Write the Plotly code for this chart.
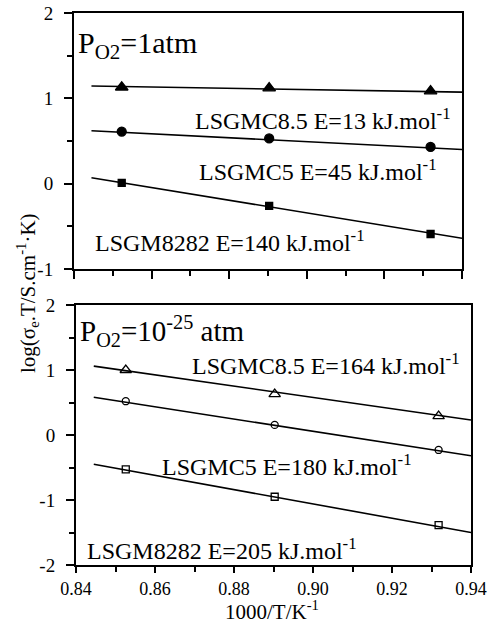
import plotly.graph_objects as go

# ---- data ----
x_pts = [0.8523, 0.8903, 0.9319]
x_pts_b = [0.8526, 0.8903, 0.9318]
fit_x = [0.8445, 0.9400]

# top panel, P_O2 = 1 atm
top_c85_y = [1.13, 1.12, 1.085]
top_c85_fit = [1.144, 1.073]
top_c5_y = [0.61, 0.53, 0.43]
top_c5_fit = [0.62, 0.40]
top_m_y = [0.01, -0.26, -0.59]
top_m_fit = [0.07, -0.64]

# bottom panel, P_O2 = 1e-25 atm
bot_c85_y = [1.00, 0.63, 0.29]
bot_c85_fit = [1.06, 0.23]
bot_c5_y = [0.52, 0.155, -0.23]
bot_c5_fit = [0.58, -0.32]
bot_m_y = [-0.53, -0.95, -1.385]
bot_m_fit = [-0.45, -1.50]

xticks = [0.84, 0.86, 0.88, 0.90, 0.92, 0.94]
xtick_text = ["0.84", "0.86", "0.88", "0.90", "0.92", "0.94"]

FONT = "Liberation Serif"
W, H = 495, 622

fig = go.Figure()

def add_series(xs, ys, fy, xa, ya, sym, size):
    fig.add_trace(go.Scatter(x=fit_x, y=fy, mode="lines", line=dict(color="black", width=1.6),
                             xaxis=xa, yaxis=ya, showlegend=False, hoverinfo="skip"))
    fig.add_trace(go.Scatter(x=xs, y=ys, mode="markers",
                             marker=dict(symbol=sym, size=size, color="black",
                                         line=dict(color="black", width=1.3)),
                             xaxis=xa, yaxis=ya, showlegend=False))

add_series(x_pts, top_c85_y, top_c85_fit, "x", "y", "triangle-up", 11)
add_series(x_pts, top_c5_y, top_c5_fit, "x", "y", "circle", 9)
add_series(x_pts, top_m_y, top_m_fit, "x", "y", "square", 7)
add_series(x_pts_b, bot_c85_y, bot_c85_fit, "x2", "y2", "triangle-up-open", 10)
add_series(x_pts_b, bot_c5_y, bot_c5_fit, "x2", "y2", "circle-open", 7)
add_series(x_pts_b, bot_m_y, bot_m_fit, "x2", "y2", "square-open", 7)

TICKFONT = dict(family=FONT, size=19, color="black")
axis_common = dict(showline=True, linecolor="black", linewidth=2, mirror=True,
                   showgrid=False, zeroline=False, ticks="outside", tickcolor="black",
                   tickwidth=1.5, tickfont=TICKFONT, automargin=False)
minor_x = dict(dtick=0.01, ticks="outside", ticklen=5, tickcolor="black", tickwidth=1.5)
minor_y = dict(dtick=0.5, ticks="outside", ticklen=5, tickcolor="black", tickwidth=1.5)

fig.update_layout(
    width=W, height=H, margin=dict(l=0, r=0, t=0, b=0),
    paper_bgcolor="white", plot_bgcolor="white",
    font=dict(family=FONT, color="black", size=19),
    xaxis=dict(domain=[74 / W, 462 / W], range=[0.84, 0.94], anchor="y",
               tickvals=xticks, showticklabels=False, ticklen=8, minor=minor_x, **axis_common),
    yaxis=dict(domain=[1 - 269 / H, 1 - 13 / H], range=[-1, 2], anchor="x",
               tickvals=[-1, 0, 1, 2], ticktext=["-1", "0", "1", "2"],
               ticklen=8, ticklabelstandoff=7, minor=minor_y, **axis_common),
    xaxis2=dict(domain=[76 / W, 471 / W], range=[0.84, 0.94], anchor="y2",
                tickvals=xticks, ticktext=xtick_text, ticklen=6, ticklabelstandoff=0,
                tickfont=dict(family=FONT, size=18, color="black"),
                minor=minor_x,
                **{k: v for k, v in axis_common.items() if k != "tickfont"}),
    yaxis2=dict(domain=[1 - 565 / H, 1 - 305 / H], range=[-2, 2], anchor="x2",
                tickvals=[-2, -1, 0, 1, 2], ticktext=["-2", "-1", "0", "1", "2"],
                ticklen=8, ticklabelstandoff=7, minor=minor_y, **axis_common),
)

def note(text, x, y, xr, yr, size=24):
    fig.add_annotation(text=text, x=x, y=y, xref=xr, yref=yr, xanchor="left", yanchor="middle",
                       showarrow=False, font=dict(family=FONT, size=size, color="black"))

note("P<sub>O2</sub>=1atm", 0.8405, 1.62, "x", "y", 30)
note("LSGMC8.5 E=13 kJ.mol<sup>-1</sup>", 0.8707, 0.76, "x", "y")
note("LSGMC5 E=45 kJ.mol<sup>-1</sup>", 0.8717, 0.157, "x", "y")
note("LSGM8282 E=140 kJ.mol<sup>-1</sup>", 0.8449, -0.67, "x", "y")

note("P<sub>O2</sub>=10<sup>-25</sup> atm", 0.8405, 1.60, "x2", "y2", 29)
note("LSGMC8.5 E=164 kJ.mol<sup>-1</sup>", 0.8689, 1.085, "x2", "y2")
note("LSGMC5 E=180 kJ.mol<sup>-1</sup>", 0.8613, -0.465, "x2", "y2")
note("LSGM8282 E=205 kJ.mol<sup>-1</sup>", 0.8423, -1.76, "x2", "y2")

fig.add_annotation(text="log(σ<sub>e</sub>.T/S.cm<sup>-1</sup>·K)", x=27 / W, y=1 - 293 / H,
                   xref="paper", yref="paper", textangle=-90, showarrow=False,
                   xanchor="center", yanchor="middle",
                   font=dict(family=FONT, size=21, color="black"))
fig.add_annotation(text="1000/T/K<sup>-1</sup>", x=272 / W, y=-3 / H,
                   xref="paper", yref="paper", showarrow=False,
                   xanchor="center", yanchor="bottom", borderpad=0,
                   font=dict(family=FONT, size=21, color="black"))

fig.write_html("out.html")
